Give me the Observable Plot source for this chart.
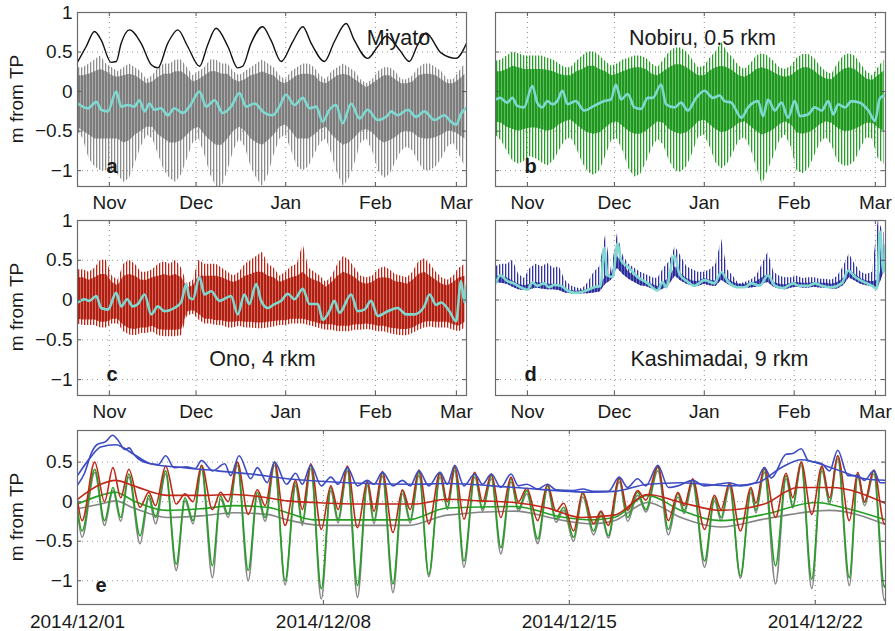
<!DOCTYPE html>
<html><head><meta charset="utf-8">
<script src="https://cdn.jsdelivr.net/npm/d3@7"></script>
<script src="https://cdn.jsdelivr.net/npm/@observablehq/plot@0.6"></script>
<style>
html,body{margin:0;padding:0;background:#fff;}
#fig{position:relative;width:895px;height:631px;overflow:hidden;font-family:"Liberation Sans",Arial,Helvetica,sans-serif;color:#1a1a1a;}
#fig > svg{position:absolute;}
.ylab{position:absolute;font-size:19px;white-space:nowrap;transform:translate(-50%,-50%) rotate(-90deg);}
</style></head>
<body>
<svg width="0" height="0" style="position:absolute">
<defs>
<pattern id="st-gray" width="3" height="6" patternUnits="userSpaceOnUse"><rect width="1.3" height="6" fill="#8c8c8c"/></pattern>
<pattern id="st-green" width="3" height="6" patternUnits="userSpaceOnUse"><rect width="1.3" height="6" fill="#2a9d2a"/></pattern>
<pattern id="st-red" width="3" height="6" patternUnits="userSpaceOnUse"><rect width="1.3" height="6" fill="#b8281a"/></pattern>
<pattern id="st-blue" width="3" height="6" patternUnits="userSpaceOnUse"><rect width="1.3" height="6" fill="#34349e"/></pattern>
<pattern id="co-gray" width="3" height="6" patternUnits="userSpaceOnUse"><rect width="3" height="6" fill="#a9a9a9"/><rect width="2" height="6" fill="#7c7c7c"/></pattern>
<pattern id="co-green" width="3" height="6" patternUnits="userSpaceOnUse"><rect width="3" height="6" fill="#5cba5c"/><rect width="2" height="6" fill="#1f961f"/></pattern>
<pattern id="co-red" width="3" height="6" patternUnits="userSpaceOnUse"><rect width="3" height="6" fill="#d0685c"/><rect width="2" height="6" fill="#b01e12"/></pattern>
<pattern id="co-blue" width="3" height="6" patternUnits="userSpaceOnUse"><rect width="3" height="6" fill="#6a6abd"/><rect width="2" height="6" fill="#2d2d99"/></pattern>
</defs></svg>
<div id="fig"></div>
<script>
// ---------- ticks / labels ----------
const monthTicks = ["2014-11-01","2014-12-01","2015-01-01","2015-02-01","2015-03-01"];
const monthLabels = ["Nov","Dec","Jan","Feb","Mar"];
const yTicks = [-1,-0.5,0,0.5,1];
const yTicksE = [-1,-0.5,0,0.5];
const eTicks = ["2014-12-01","2014-12-08","2014-12-15","2014-12-22"];
const eTickLabels = ["2014/12/01","2014/12/08","2014/12/15","2014/12/22"];
const titles = ["Miyato","Nobiru, 0.5 rkm","Ono, 4 rkm","Kashimadai, 9 rkm"];
const letters = ["a","b","c","d","e"];

// ---------- panels a-d: envelopes every 2 days from 2014-10-21 ----------
const aHi = [0.30,0.30,0.35,0.40,0.45,0.35,0.30,0.25,0.30,0.35,0.30,0.25,0.15,0.20,0.30,0.35,0.35,0.40,0.40,0.30,0.20,0.25,0.30,0.40,0.40,0.35,0.35,0.25,0.20,0.25,0.30,0.35,0.40,0.35,0.30,0.20,0.15,0.25,0.30,0.35,0.35,0.30,0.20,0.15,0.25,0.30,0.35,0.30,0.25,0.15,0.10,0.15,0.25,0.30,0.30,0.25,0.15,0.15,0.20,0.30,0.35,0.35,0.30,0.25,0.15,0.15,0.25,0.35];
const aLo = [-0.50,-0.60,-0.85,-0.95,-1.00,-1.00,-1.00,-1.05,-1.15,-1.10,-0.90,-0.70,-0.55,-0.60,-0.80,-1.00,-1.10,-1.15,-1.05,-0.85,-0.65,-0.60,-0.80,-1.05,-1.20,-1.20,-1.00,-0.75,-0.60,-0.70,-0.95,-1.10,-1.20,-1.05,-0.80,-0.60,-0.55,-0.75,-0.95,-1.00,-0.95,-0.80,-0.65,-0.60,-0.80,-1.05,-1.20,-1.10,-0.90,-0.65,-0.60,-0.75,-1.00,-1.10,-1.05,-0.90,-0.75,-0.70,-0.75,-0.90,-1.00,-1.00,-0.95,-0.85,-0.70,-0.65,-0.80,-0.95];
const aCoreHi = [0.20,0.20,0.22,0.25,0.28,0.25,0.20,0.18,0.20,0.22,0.20,0.15,0.10,0.12,0.18,0.22,0.22,0.25,0.25,0.20,0.12,0.15,0.20,0.25,0.25,0.22,0.22,0.15,0.12,0.15,0.20,0.22,0.25,0.22,0.20,0.12,0.10,0.15,0.20,0.22,0.22,0.20,0.12,0.10,0.15,0.20,0.22,0.20,0.15,0.10,0.05,0.10,0.15,0.20,0.20,0.15,0.10,0.10,0.12,0.20,0.22,0.22,0.20,0.15,0.10,0.10,0.15,0.22];
const aCoreLo = [-0.45,-0.50,-0.55,-0.60,-0.60,-0.60,-0.60,-0.60,-0.65,-0.62,-0.55,-0.50,-0.45,-0.45,-0.55,-0.60,-0.65,-0.65,-0.62,-0.55,-0.48,-0.45,-0.55,-0.62,-0.68,-0.68,-0.60,-0.50,-0.45,-0.50,-0.60,-0.65,-0.68,-0.62,-0.55,-0.45,-0.42,-0.50,-0.60,-0.60,-0.60,-0.55,-0.48,-0.45,-0.55,-0.62,-0.68,-0.65,-0.58,-0.50,-0.48,-0.52,-0.60,-0.65,-0.62,-0.58,-0.52,-0.50,-0.52,-0.58,-0.60,-0.60,-0.58,-0.55,-0.50,-0.50,-0.55,-0.60];

const bHi = [0.38,0.40,0.45,0.50,0.48,0.45,0.45,0.45,0.45,0.42,0.40,0.35,0.30,0.30,0.38,0.45,0.50,0.50,0.45,0.38,0.32,0.35,0.40,0.42,0.45,0.45,0.42,0.35,0.30,0.40,0.50,0.55,0.55,0.50,0.40,0.30,0.32,0.42,0.50,0.62,0.50,0.42,0.32,0.28,0.35,0.45,0.48,0.45,0.38,0.30,0.28,0.32,0.42,0.47,0.47,0.42,0.32,0.25,0.22,0.35,0.45,0.48,0.45,0.35,0.25,0.20,0.30,0.40];
const bLo = [-0.55,-0.62,-0.75,-0.88,-0.92,-0.88,-0.82,-0.85,-0.90,-0.94,-0.88,-0.75,-0.62,-0.58,-0.72,-0.90,-1.02,-1.06,-1.00,-0.82,-0.62,-0.60,-0.75,-0.98,-1.08,-1.05,-0.90,-0.72,-0.60,-0.68,-0.88,-1.00,-1.02,-0.95,-0.78,-0.58,-0.55,-0.70,-0.90,-0.98,-0.92,-0.78,-0.62,-0.58,-0.72,-0.95,-1.18,-1.00,-0.82,-0.62,-0.55,-0.70,-1.00,-1.04,-0.98,-0.82,-0.65,-0.58,-0.68,-0.88,-0.94,-0.94,-0.88,-0.72,-0.58,-0.60,-0.85,-0.92];
const bCoreHi = [0.25,0.25,0.28,0.32,0.30,0.28,0.28,0.28,0.28,0.27,0.25,0.22,0.20,0.20,0.25,0.28,0.32,0.32,0.28,0.25,0.20,0.22,0.25,0.28,0.30,0.30,0.28,0.22,0.20,0.25,0.30,0.34,0.34,0.30,0.25,0.20,0.20,0.26,0.30,0.32,0.30,0.26,0.20,0.18,0.22,0.28,0.30,0.28,0.24,0.20,0.18,0.20,0.26,0.30,0.30,0.26,0.20,0.16,0.15,0.22,0.28,0.30,0.28,0.22,0.16,0.14,0.20,0.26];
const bCoreLo = [-0.38,-0.40,-0.45,-0.48,-0.50,-0.48,-0.46,-0.46,-0.48,-0.50,-0.48,-0.42,-0.38,-0.36,-0.42,-0.48,-0.52,-0.54,-0.52,-0.46,-0.40,-0.38,-0.44,-0.50,-0.54,-0.54,-0.50,-0.44,-0.38,-0.40,-0.48,-0.52,-0.54,-0.52,-0.46,-0.38,-0.36,-0.42,-0.48,-0.52,-0.50,-0.46,-0.40,-0.38,-0.44,-0.50,-0.55,-0.52,-0.48,-0.42,-0.38,-0.42,-0.52,-0.54,-0.52,-0.48,-0.42,-0.38,-0.40,-0.46,-0.50,-0.50,-0.48,-0.44,-0.40,-0.40,-0.46,-0.50];

const cHi = [0.38,0.38,0.35,0.40,0.50,0.50,0.30,0.25,0.45,0.50,0.45,0.35,0.35,0.38,0.45,0.48,0.45,0.50,0.40,0.20,0.25,0.50,0.45,0.45,0.45,0.40,0.35,0.30,0.35,0.45,0.50,0.55,0.60,0.45,0.40,0.30,0.35,0.42,0.45,0.70,0.40,0.35,0.30,0.22,0.30,0.45,0.55,0.50,0.40,0.30,0.28,0.30,0.38,0.42,0.38,0.32,0.30,0.28,0.35,0.48,0.52,0.45,0.35,0.28,0.25,0.30,0.40,0.45];
const cLo = [-0.30,-0.32,-0.32,-0.32,-0.35,-0.35,-0.30,-0.30,-0.40,-0.44,-0.45,-0.42,-0.42,-0.40,-0.45,-0.46,-0.46,-0.46,-0.45,-0.20,-0.18,-0.25,-0.30,-0.30,-0.32,-0.32,-0.35,-0.35,-0.33,-0.35,-0.35,-0.36,-0.36,-0.35,-0.34,-0.32,-0.32,-0.30,-0.30,-0.30,-0.32,-0.34,-0.36,-0.38,-0.38,-0.40,-0.40,-0.40,-0.38,-0.38,-0.37,-0.38,-0.40,-0.40,-0.42,-0.44,-0.45,-0.45,-0.42,-0.38,-0.35,-0.34,-0.35,-0.35,-0.35,-0.38,-0.40,-0.35];
const cCoreHi = [0.28,0.28,0.25,0.28,0.32,0.32,0.22,0.18,0.30,0.32,0.30,0.25,0.25,0.28,0.30,0.32,0.30,0.32,0.28,0.15,0.18,0.30,0.30,0.30,0.30,0.28,0.25,0.22,0.25,0.30,0.32,0.35,0.35,0.30,0.28,0.22,0.25,0.28,0.30,0.35,0.28,0.25,0.22,0.16,0.22,0.30,0.35,0.32,0.28,0.22,0.20,0.22,0.27,0.28,0.27,0.23,0.22,0.20,0.25,0.32,0.35,0.30,0.25,0.20,0.18,0.22,0.28,0.30];
const cCoreLo = [-0.24,-0.25,-0.25,-0.25,-0.28,-0.28,-0.24,-0.24,-0.32,-0.36,-0.37,-0.35,-0.35,-0.33,-0.37,-0.38,-0.38,-0.38,-0.37,-0.15,-0.13,-0.18,-0.24,-0.24,-0.26,-0.26,-0.28,-0.28,-0.27,-0.28,-0.28,-0.29,-0.29,-0.28,-0.27,-0.26,-0.26,-0.24,-0.24,-0.24,-0.26,-0.28,-0.30,-0.31,-0.31,-0.33,-0.33,-0.33,-0.31,-0.31,-0.30,-0.31,-0.33,-0.33,-0.35,-0.36,-0.37,-0.37,-0.35,-0.31,-0.28,-0.27,-0.28,-0.28,-0.28,-0.31,-0.33,-0.28];

const dHi = [0.42,0.45,0.45,0.50,0.32,0.27,0.40,0.45,0.42,0.46,0.40,0.42,0.25,0.18,0.15,0.14,0.22,0.35,0.42,0.82,0.35,0.83,0.56,0.45,0.40,0.35,0.32,0.28,0.27,0.40,0.48,0.67,0.55,0.42,0.38,0.35,0.35,0.38,0.45,0.76,0.38,0.30,0.20,0.22,0.25,0.30,0.45,0.60,0.35,0.30,0.28,0.28,0.30,0.27,0.28,0.28,0.26,0.26,0.25,0.30,0.42,0.58,0.45,0.35,0.32,0.35,1.00,0.84];
const dLo = [0.22,0.21,0.20,0.16,0.13,0.12,0.13,0.15,0.14,0.13,0.13,0.12,0.09,0.08,0.07,0.08,0.08,0.09,0.10,0.20,0.25,0.40,0.32,0.26,0.22,0.18,0.17,0.14,0.11,0.14,0.20,0.30,0.24,0.20,0.18,0.17,0.20,0.18,0.17,0.25,0.20,0.16,0.15,0.15,0.15,0.16,0.20,0.22,0.16,0.14,0.13,0.15,0.16,0.15,0.15,0.16,0.15,0.15,0.14,0.14,0.18,0.28,0.24,0.20,0.18,0.17,0.15,0.35];
const dCoreHi = [0.30,0.30,0.28,0.24,0.20,0.18,0.20,0.22,0.21,0.20,0.20,0.18,0.14,0.12,0.11,0.12,0.13,0.15,0.18,0.30,0.32,0.55,0.45,0.35,0.30,0.25,0.23,0.20,0.17,0.22,0.28,0.42,0.33,0.27,0.24,0.23,0.27,0.25,0.24,0.35,0.27,0.22,0.20,0.20,0.21,0.23,0.28,0.32,0.22,0.20,0.19,0.21,0.22,0.21,0.21,0.22,0.21,0.21,0.20,0.22,0.27,0.38,0.32,0.27,0.24,0.23,0.25,0.55];

// low-passed (cyan) series: [day since 2014-10-21, m]
const aCyan = [[0.1,-0.15],[3.6,-0.21],[6.5,-0.13],[8.2,-0.23],[10.5,-0.25],[13.4,0.0],[15.1,-0.19],[17.4,-0.17],[19.7,-0.19],[21.4,-0.11],[23.2,-0.25],[24.9,-0.15],[26.6,-0.23],[28.9,-0.21],[31.2,-0.3],[33.5,-0.21],[36.4,-0.27],[38.7,-0.19],[42.2,0.0],[44.5,-0.19],[47.4,-0.11],[50.2,-0.27],[53.1,-0.19],[56.0,-0.02],[58.3,-0.19],[61.2,-0.15],[64.6,-0.27],[67.5,-0.3],[69.8,-0.19],[72.1,-0.04],[75.0,-0.17],[77.9,-0.08],[80.2,-0.21],[82.5,-0.19],[84.8,-0.38],[87.1,-0.23],[89.4,-0.17],[91.7,-0.4],[94.6,-0.15],[97.5,-0.34],[100.3,-0.23],[103.8,-0.36],[107.3,-0.3],[108.4,-0.25],[110.7,-0.3],[114.2,-0.23],[117.1,-0.32],[120.0,-0.25],[123.4,-0.36],[126.8,-0.3],[129.1,-0.38],[130.9,-0.42],[132.6,-0.28],[134.5,-0.21]];
const aBlack = [[0.1,0.38],[3.0,0.57],[5.9,0.76],[8.2,0.65],[11.6,0.37],[13.4,0.38],[15.1,0.61],[18.0,0.78],[22.0,0.61],[25.5,0.34],[27.8,0.3],[31.2,0.61],[34.7,0.78],[38.1,0.57],[42.2,0.32],[45.0,0.59],[47.9,0.8],[52.0,0.57],[55.4,0.3],[57.1,0.32],[60.0,0.61],[64.0,0.82],[66.9,0.65],[70.4,0.38],[74.4,0.63],[77.9,0.82],[80.8,0.61],[85.4,0.38],[88.8,0.63],[92.9,0.86],[95.7,0.65],[100.3,0.42],[103.8,0.57],[106.7,0.7],[111.3,0.53],[114.7,0.38],[117.6,0.59],[120.5,0.74],[125.7,0.49],[130.9,0.42],[134.5,0.61]];
const bCyan = [[0,-0.1],[1.7,-0.08],[4.0,-0.14],[5.8,-0.08],[7.5,-0.18],[9.8,-0.2],[12.7,0.07],[14.4,-0.14],[16.1,-0.2],[17.9,-0.12],[19.6,-0.16],[21.3,-0.12],[23.1,0.01],[24.8,-0.16],[27.7,-0.12],[30.6,-0.24],[34.0,-0.18],[37.5,-0.12],[39.8,-0.1],[41.5,0.09],[43.3,-0.1],[45.6,-0.03],[47.9,-0.2],[50.2,-0.22],[52.5,-0.08],[54.2,-0.08],[57.1,0.09],[58.8,-0.16],[61.7,-0.2],[64.0,-0.14],[66.3,-0.24],[69.2,-0.08],[72.1,0.01],[75.0,-0.08],[77.3,-0.05],[79.0,-0.12],[81.3,-0.14],[84.8,-0.33],[87.1,-0.2],[90.5,-0.12],[92.3,-0.31],[94.0,-0.1],[96.3,-0.24],[98.6,-0.14],[100.9,-0.33],[103.2,-0.12],[105.0,-0.31],[107.8,-0.29],[110.1,-0.2],[112.5,-0.24],[114.8,-0.12],[116.5,-0.29],[118.2,-0.16],[120.5,-0.2],[122.8,-0.12],[125.7,-0.14],[128.6,-0.24],[130.9,-0.37],[132.6,-0.08],[134.5,-0.05]];
const cCyan = [[0.1,-0.03],[2.4,0.01],[4.1,-0.01],[6.5,0.05],[8.2,-0.1],[10.5,-0.12],[13.4,0.09],[15.1,-0.08],[17.2,0.01],[19.1,-0.08],[20.9,-0.05],[23.2,0.07],[25.5,-0.18],[27.8,-0.08],[30.1,-0.14],[33.5,-0.1],[35.8,-0.03],[37.6,0.2],[38.7,0.03],[39.9,0.01],[42.2,0.29],[43.9,0.07],[46.2,0.11],[49.1,-0.01],[53.1,0.05],[55.4,-0.18],[57.7,0.07],[59.4,-0.05],[61.8,0.2],[63.5,-0.01],[65.8,-0.1],[68.1,-0.05],[70.4,-0.01],[72.7,0.08],[75.0,0.01],[77.9,0.14],[80.2,-0.05],[83.1,-0.05],[84.8,-0.25],[87.1,-0.14],[88.8,-0.01],[90.6,-0.16],[94.6,0.07],[96.9,-0.14],[99.2,-0.12],[101.5,-0.01],[103.8,-0.2],[107.3,-0.14],[110.7,-0.1],[113.6,-0.18],[116.5,-0.18],[119.9,-0.08],[121.7,0.07],[124.0,-0.06],[125.7,-0.03],[128.6,-0.14],[130.9,-0.27],[132.6,0.24],[133.8,-0.03],[134.5,0.18]];
const dCyan = [[0,0.21],[1.7,0.31],[4.0,0.24],[6.3,0.21],[8.7,0.16],[11.0,0.13],[12.7,0.22],[14.4,0.18],[16.7,0.21],[18.5,0.16],[20.2,0.19],[22.5,0.18],[24.8,0.12],[27.7,0.09],[30.6,0.11],[34.0,0.16],[36.3,0.18],[37.5,0.65],[38.6,0.31],[40.4,0.29],[42.1,0.71],[43.3,0.5],[45.6,0.42],[49.0,0.29],[52.5,0.21],[55.9,0.12],[57.7,0.23],[58.8,0.16],[61.7,0.56],[63.4,0.33],[66.3,0.23],[68.6,0.18],[72.1,0.25],[75.5,0.21],[77.9,0.35],[80.2,0.23],[83.6,0.16],[85.9,0.16],[88.2,0.21],[91.1,0.18],[94.0,0.31],[96.3,0.18],[99.2,0.15],[102.7,0.21],[104.4,0.18],[107.8,0.18],[110.1,0.21],[112.5,0.18],[115.9,0.16],[119.4,0.21],[121.7,0.37],[124.0,0.29],[126.3,0.24],[129.8,0.18],[131.5,0.14],[132.6,0.86],[133.8,0.35],[134.5,0.69]];

// ---------- panel e: December 2014 (day since 2014-12-01) ----------
const eTurnDays = [0.0,0.13,0.49,0.77,1.01,1.23,1.46,1.78,2.03,2.22,2.51,2.81,3.06,3.29,3.53,3.84,4.07,4.29,4.55,4.86,5.12,5.34,5.61,5.91,6.21,6.40,6.64,6.94,7.21,7.42,7.68,7.97,8.25,8.44,8.68,8.98,9.25,9.47,9.72,10.0,10.32,10.53,10.74,11.0,11.31,11.53,11.78,12.05,12.34,12.55,12.79,13.1,13.38,13.62,13.84,14.12,14.38,14.69,14.9,15.11,15.42,15.66,15.94,16.18,16.52,16.82,17.09,17.27,17.51,17.85,18.13,18.32,18.56,18.87,19.17,19.31,19.55,19.87,20.17,20.36,20.6,20.9,21.19,21.41,21.64,21.97,22.21,22.4,22.67,22.97,23.0];
const eGreen = [-0.10,-0.37,0.41,-0.24,0.18,-0.20,0.35,-0.43,0.08,-0.20,0.39,-0.79,0.05,-0.24,0.45,-0.81,0.07,-0.16,0.50,-0.87,0.12,-0.20,0.50,-1.00,0.24,-0.26,0.46,-1.10,0.18,-0.22,0.43,-1.06,0.24,-0.24,0.36,-1.04,0.14,-0.23,0.37,-0.92,0.35,-0.07,0.43,-0.75,0.35,-0.09,0.33,-0.58,0.29,-0.09,0.14,-0.47,0.20,-0.22,-0.07,-0.45,0.10,-0.37,-0.13,-0.43,0.29,-0.20,0.12,-0.10,0.43,-0.35,0.10,-0.11,0.27,-0.75,0.05,-0.20,0.22,-0.94,0.16,-0.11,0.41,-0.81,0.33,-0.05,0.50,-0.98,0.43,0.00,0.58,-0.96,0.35,-0.01,0.39,-1.08,-1.05];
const eGray = [-0.12,-0.45,0.37,-0.30,0.14,-0.25,0.31,-0.53,0.04,-0.28,0.35,-0.87,0.01,-0.28,0.41,-0.96,0.03,-0.20,0.46,-1.00,0.08,-0.25,0.46,-1.05,0.20,-0.30,0.42,-1.23,0.14,-0.27,0.39,-1.21,0.20,-0.28,0.32,-1.15,0.10,-0.27,0.33,-0.95,0.31,-0.10,0.39,-0.83,0.31,-0.12,0.29,-0.66,0.25,-0.12,0.10,-0.53,0.16,-0.26,-0.11,-0.50,0.06,-0.42,-0.17,-0.46,0.25,-0.25,0.08,-0.13,0.39,-0.42,0.06,-0.15,0.23,-0.83,0.01,-0.24,0.18,-0.97,0.12,-0.14,0.37,-1.04,0.29,-0.08,0.46,-1.10,0.39,-0.03,0.54,-1.06,0.31,-0.05,0.35,-1.25,-1.22];
const eRed = [0.02,-0.24,0.50,0.00,0.43,0.05,0.41,-0.07,0.12,-0.05,0.45,-0.03,0.10,0.00,0.46,-0.10,0.12,0.00,0.50,-0.16,0.15,-0.05,0.50,-0.30,0.27,-0.10,0.48,-0.35,0.20,-0.10,0.45,-0.33,0.26,-0.12,0.38,-0.39,0.15,-0.10,0.40,-0.28,0.37,0.00,0.45,-0.22,0.37,0.00,0.35,-0.20,0.31,0.00,0.17,-0.24,0.22,-0.12,-0.02,-0.37,0.12,-0.28,-0.12,-0.30,0.30,-0.11,0.14,0.02,0.45,-0.24,0.12,-0.05,0.29,-0.35,0.08,-0.10,0.24,-0.37,0.18,-0.02,0.43,-0.20,0.36,0.05,0.50,-0.16,0.45,0.05,0.58,-0.24,0.37,0.00,0.40,-0.28,-0.27];
const eBlue = [[0.0,0.21],[0.2,0.36],[0.4,0.62],[0.55,0.72],[0.8,0.76],[1.0,0.84],[1.15,0.78],[1.35,0.66],[1.47,0.68],[1.6,0.60],[1.8,0.52],[2.1,0.48],[2.3,0.47],[2.51,0.58],[2.75,0.43],[3.1,0.44],[3.35,0.42],[3.53,0.52],[3.85,0.39],[4.19,0.48],[4.36,0.33],[4.6,0.58],[4.93,0.29],[5.12,0.43],[5.4,0.24],[5.61,0.50],[5.95,0.22],[6.21,0.36],[6.4,0.22],[6.64,0.46],[6.94,0.20],[7.21,0.31],[7.42,0.22],[7.68,0.43],[7.97,0.20],[8.25,0.27],[8.44,0.22],[8.68,0.37],[8.98,0.20],[9.25,0.27],[9.47,0.20],[9.72,0.39],[10.0,0.20],[10.32,0.37],[10.53,0.22],[10.74,0.46],[11.0,0.20],[11.31,0.35],[11.53,0.22],[11.78,0.35],[12.05,0.18],[12.34,0.35],[12.55,0.20],[12.79,0.22],[13.1,0.16],[13.38,0.22],[13.62,0.15],[14.12,0.14],[14.38,0.16],[14.69,0.13],[15.11,0.13],[15.42,0.31],[15.66,0.18],[15.94,0.29],[16.18,0.20],[16.52,0.46],[16.82,0.18],[17.09,0.20],[17.51,0.27],[17.85,0.20],[18.56,0.24],[18.87,0.20],[19.3,0.24],[19.55,0.43],[19.75,0.30],[20.17,0.60],[20.36,0.61],[20.6,0.67],[20.8,0.52],[21.19,0.48],[21.41,0.39],[21.64,0.65],[21.93,0.33],[22.21,0.33],[22.4,0.27],[22.67,0.39],[22.85,0.24],[23.0,0.24]];
const eBlueSmooth = [[0.0,0.33],[0.37,0.56],[0.66,0.69],[1.08,0.72],[1.6,0.6],[2.08,0.48],[3.03,0.43],[3.98,0.39],[4.93,0.35],[5.97,0.29],[7.68,0.24],[9.58,0.22],[10.53,0.23],[12.43,0.18],[14.62,0.12],[15.28,0.13],[16.23,0.22],[17.18,0.24],[18.6,0.2],[19.36,0.24],[20.03,0.43],[20.6,0.53],[21.45,0.43],[22.4,0.29],[23.0,0.27]];
const eRedSmooth = [[0.0,0.03],[0.66,0.22],[1.08,0.27],[1.6,0.2],[2.55,0.08],[3.5,0.08],[4.45,0.09],[5.4,0.05],[5.97,0.01],[6.73,-0.01],[8.16,-0.03],[9.58,-0.03],[10.53,0.03],[11.48,0.01],[12.43,-0.01],[13.38,-0.08],[14.33,-0.2],[15.28,-0.17],[16.23,0.09],[17.18,-0.01],[18.32,-0.11],[19.55,-0.03],[20.5,0.18],[21.45,0.18],[23.0,-0.02]];
const eGreenSmooth = [[0.0,-0.03],[0.66,0.08],[1.08,0.12],[1.6,0.01],[2.55,-0.11],[3.5,-0.09],[4.45,-0.05],[5.4,-0.07],[5.97,-0.14],[6.73,-0.23],[8.16,-0.23],[9.39,-0.23],[10.53,-0.08],[12.43,-0.06],[13.86,-0.2],[14.62,-0.23],[15.28,-0.2],[16.23,0.08],[17.18,-0.11],[18.32,-0.24],[19.55,-0.16],[21.0,-0.01],[21.93,-0.09],[23.0,-0.23]];
const eGraySmooth = [[0.0,-0.09],[0.66,-0.03],[1.08,0.01],[1.6,-0.08],[2.55,-0.2],[3.5,-0.18],[4.45,-0.14],[5.4,-0.16],[5.97,-0.23],[7.02,-0.3],[8.63,-0.3],[9.39,-0.3],[10.53,-0.17],[12.43,-0.12],[13.86,-0.24],[14.62,-0.28],[15.28,-0.24],[16.23,-0.01],[17.18,-0.2],[18.32,-0.32],[19.55,-0.22],[21.41,-0.11],[23.0,-0.29]];

// ---------- helpers ----------
const DAY = 864e5;
const T0 = Date.UTC(2014, 9, 21), TEND = Date.UTC(2015, 2, 4, 12);
const E0 = Date.UTC(2014, 11, 1), EEND = Date.UTC(2014, 11, 24);
const bandDays = d3.range(0, 135, 2);
const band = (hi, lo, ch, cl) => bandDays.map((d, i) => ({t: new Date(T0 + d * DAY), hi: hi[i], lo: lo[i], ch: ch[i], cl: cl[i]}));
const series = (base, pairs) => pairs.map(([d, v]) => ({t: new Date(base + d * DAY), v}));
const turns = vals => eTurnDays.map((d, i) => ({t: new Date(E0 + d * DAY), v: vals[i]}));
const fmtY = d => d === 0 ? "0" : (d < 0 ? "\u2212" : "") + Math.abs(d);
const months = monthTicks.map(s => new Date(s));
const monthName = new Map(months.map((d, i) => [+d, monthLabels[i]]));
const eDates = eTicks.map(s => new Date(s));
const eName = new Map(eDates.map((d, i) => [+d, eTickLabels[i]]));
const FONT = "'Liberation Sans', Arial, Helvetica, sans-serif";
const fig = document.getElementById("fig");

function place(svg, left, top) {
  svg.style.left = left + "px"; svg.style.top = top + "px";
  fig.appendChild(svg);
}
function ylab(x, y) {
  const d = document.createElement("div");
  d.className = "ylab"; d.textContent = "m from TP";
  d.style.left = x + "px"; d.style.top = y + "px";
  fig.appendChild(d);
}

function tidePanel(o) {
  const pw = o.width - o.mL - o.mR, ph = o.height - o.mT - o.mB;
  const marks = [
    Plot.ruleY(yTicks, {stroke: "#8f8f8f", strokeDasharray: "1,4"}),
    Plot.ruleX(months, {stroke: "#8f8f8f", strokeDasharray: "1,4"}),
    Plot.areaY(o.band, {x: "t", y1: "lo", y2: "hi", fill: `url(#${o.pattern})`, clip: true}),
    Plot.areaY(o.band, {x: "t", y1: "cl", y2: "ch", fill: `url(#${o.core})`, clip: true})
  ];
  if (o.black) marks.push(Plot.line(o.black, {x: "t", y: "v", stroke: "#111", strokeWidth: 1.4, curve: "monotone-x", clip: true}));
  marks.push(Plot.line(o.cyan, {x: "t", y: "v", stroke: "#80d9d1", strokeWidth: 2.6, curve: "monotone-x", clip: true}));
  marks.push(
    Plot.ruleY(yTicks, {stroke: "#555", insetRight: pw - 4}),
    Plot.ruleY(yTicks, {stroke: "#555", insetLeft: pw - 4}),
    Plot.ruleX(months, {stroke: "#555", insetTop: ph - 4}),
    Plot.ruleX(months, {stroke: "#555", insetBottom: ph - 4}),
    Plot.frame({stroke: "#6b6b6b", strokeWidth: 1.2}),
    Plot.axisX({ticks: months, tickFormat: d => monthName.get(+d), tickSize: 0, tickPadding: 9, fontSize: 19, label: null}),
    Plot.text([o.title], {text: d => d, frameAnchor: o.titleAnchor, dx: o.titleDx, dy: o.titleDy, textAnchor: "middle", fontSize: 21.5, fill: "#1a1a1a"}),
    Plot.text([o.letter], {text: d => d, frameAnchor: "bottom-left", dx: 29, dy: o.letterDy, textAnchor: "start", fontSize: 20, fontWeight: "bold", fill: "#1a1a1a"})
  );
  if (o.yLabels) marks.push(Plot.axisY({ticks: yTicks, tickFormat: fmtY, tickSize: 0, tickPadding: 5, fontSize: 19, label: null}));
  const svg = Plot.plot({
    width: o.width, height: o.height,
    marginLeft: o.mL, marginRight: o.mR, marginTop: o.mT, marginBottom: o.mB,
    x: {type: "utc", domain: [new Date(T0), new Date(TEND)], axis: null},
    y: {domain: [-1.2, 1], axis: null},
    style: {background: "transparent", fontFamily: FONT, fontSize: "19px", color: "#1a1a1a", overflow: "visible"},
    marks
  });
  place(svg, o.left, o.top);
}

tidePanel({left: 0, top: 0, width: 475, height: 215, mL: 77, mR: 9, mT: 12, mB: 29,
  band: band(aHi, aLo, aCoreHi, aCoreLo), pattern: "st-gray", core: "co-gray",
  cyan: series(T0, aCyan), black: series(T0, aBlack),
  title: titles[0], titleAnchor: "top-left", titleDx: 321, titleDy: 17, letter: letters[0], letterDy: -14, yLabels: true});
tidePanel({left: 475, top: 0, width: 420, height: 215, mL: 20, mR: 10, mT: 12, mB: 29,
  band: band(bHi, bLo, bCoreHi, bCoreLo), pattern: "st-green", core: "co-green",
  cyan: series(T0, bCyan),
  title: titles[1], titleAnchor: "top-left", titleDx: 207, titleDy: 17, letter: letters[1], letterDy: -14, yLabels: false});
tidePanel({left: 0, top: 205, width: 475, height: 220, mL: 77, mR: 9, mT: 15, mB: 30,
  band: band(cHi, cLo, cCoreHi, cCoreLo), pattern: "st-red", core: "co-red",
  cyan: series(T0, cCyan),
  title: titles[2], titleAnchor: "bottom-left", titleDx: 185, titleDy: -30, letter: letters[2], letterDy: -15, yLabels: true});
tidePanel({left: 475, top: 205, width: 420, height: 220, mL: 20, mR: 10, mT: 15, mB: 30,
  band: band(dHi, dLo, dCoreHi, dLo), pattern: "st-blue", core: "co-blue",
  cyan: series(T0, dCyan),
  title: titles[3], titleAnchor: "bottom-left", titleDx: 224, titleDy: -30, letter: letters[3], letterDy: -15, yLabels: false});

// ---------- panel e ----------
(function () {
  const width = 895, height = 211, mL = 77, mR = 10, mT = 10, mB = 27;
  const pw = width - mL - mR, ph = height - mT - mB;
  const C = {gray: "#858585", green: "#23a023", red: "#c02818", blue: "#3d4cc2"};
  const ln = (data, stroke) => Plot.line(data, {x: "t", y: "v", stroke, strokeWidth: 1.6, curve: "monotone-x", clip: true});
  const svg = Plot.plot({
    width, height, marginLeft: mL, marginRight: mR, marginTop: mT, marginBottom: mB,
    x: {type: "utc", domain: [new Date(E0), new Date(EEND)], axis: null},
    y: {domain: [-1.3, 0.9], axis: null},
    style: {background: "transparent", fontFamily: FONT, fontSize: "19px", color: "#1a1a1a", overflow: "visible"},
    marks: [
      Plot.ruleY(yTicksE, {stroke: "#8f8f8f", strokeDasharray: "1,4"}),
      Plot.ruleX(eDates, {stroke: "#8f8f8f", strokeDasharray: "1,4"}),
      ln(turns(eGray), C.gray), ln(series(E0, eGraySmooth), C.gray),
      ln(turns(eGreen), C.green), ln(series(E0, eGreenSmooth), C.green),
      ln(turns(eRed), C.red), ln(series(E0, eRedSmooth), C.red),
      ln(series(E0, eBlue), C.blue), ln(series(E0, eBlueSmooth), C.blue),
      Plot.ruleY(yTicksE, {stroke: "#555", insetRight: pw - 4}),
      Plot.ruleY(yTicksE, {stroke: "#555", insetLeft: pw - 4}),
      Plot.ruleX(eDates, {stroke: "#555", insetTop: ph - 4}),
      Plot.ruleX(eDates, {stroke: "#555", insetBottom: ph - 4}),
      Plot.frame({stroke: "#6b6b6b", strokeWidth: 1.2}),
      Plot.axisX({ticks: eDates, tickFormat: d => eName.get(+d), tickSize: 0, tickPadding: 10, fontSize: 19, label: null}),
      Plot.axisY({ticks: yTicksE, tickFormat: fmtY, tickSize: 0, tickPadding: 5, fontSize: 19, label: null}),
      Plot.text([letters[4]], {text: d => d, frameAnchor: "bottom-left", dx: 18, dy: -13, textAnchor: "start", fontSize: 20, fontWeight: "bold", fill: "#1a1a1a"})
    ]
  });
  place(svg, 0, 420);
})();

ylab(17, 99);
ylab(17, 307);
ylab(17, 517);
</script>
</body></html>
